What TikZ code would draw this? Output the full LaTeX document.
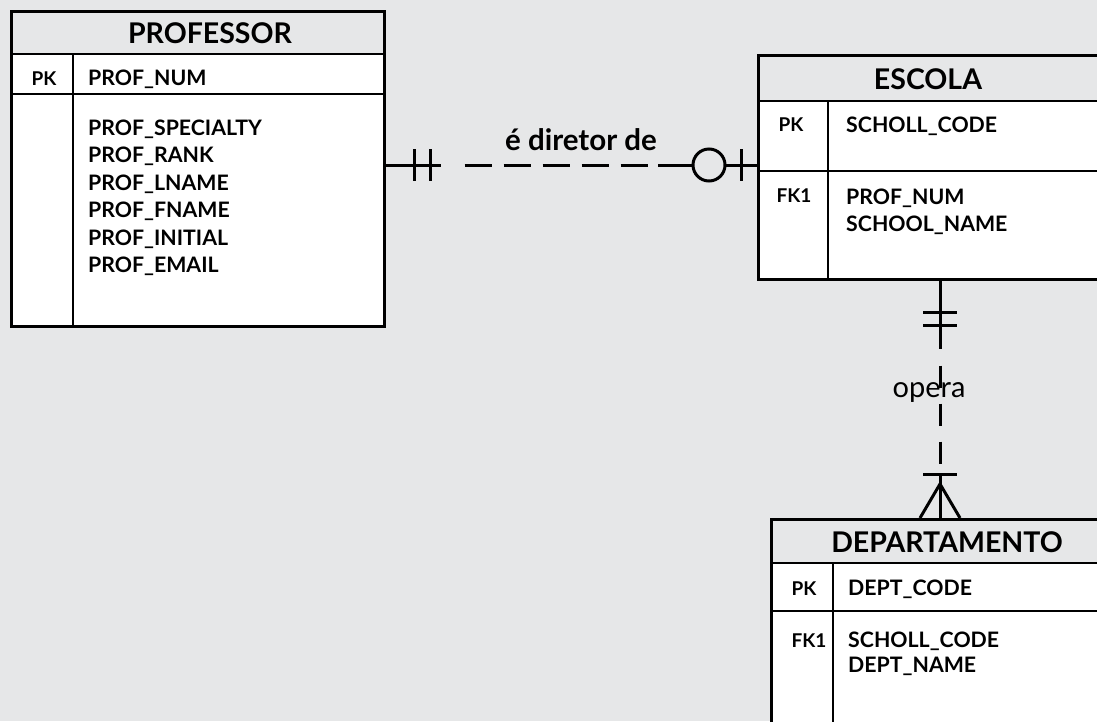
\documentclass[tikz,border=0pt]{standalone}
\usepackage{fontspec}
\setmainfont{Lato}
\usetikzlibrary{calc}
\definecolor{paper}{HTML}{E6E7E8}
\begin{document}
\begin{tikzpicture}[x=1pt,y=-1pt,
  entity/.style={draw, line width=2.6pt, inner sep=0pt, anchor=north west},
  rule/.style={line width=2pt},
  rel/.style={line width=3pt},
  tick/.style={line width=3pt},
  titletext/.style={font=\fontsize{28.5}{30}\selectfont\bfseries, anchor=base, inner sep=0pt},
  attrtext/.style={font=\fontsize{21.3}{24}\selectfont\bfseries, anchor=base west, inner sep=0pt},
  keytext/.style={font=\fontsize{19}{22}\selectfont\bfseries, anchor=base, inner sep=0pt},
  reltext/.style={font=\fontsize{29}{31}\selectfont, anchor=base, inner sep=0pt}]

% canvas
\fill[paper] (0,0) rectangle (1097,721);
\useasboundingbox (0,0) rectangle (1097,721);
\clip (0,0) rectangle (1097,721);

% ---------- PROFESSOR ----------
\fill[white] (10,54) rectangle (383,325);
\node[entity, minimum width=373pt, minimum height=315pt] (prof) at (10,10) {};
\draw[rule] (10,54) -- (383,54) (10,94) -- (383,94) (73,54) -- (73,325);
\node[titletext] (profTitle) at (210,43) {PROFESSOR};
\node[keytext] (profPK) at (44,85) {PK};
\node[attrtext] (profA0) at (88,85) {PROF\_NUM};
\node[attrtext] (profA1) at (88,135) {PROF\_SPECIALTY};
\node[attrtext] (profA2) at (88,162.5) {PROF\_RANK};
\node[attrtext] (profA3) at (88,190) {PROF\_LNAME};
\node[attrtext] (profA4) at (88,217.5) {PROF\_FNAME};
\node[attrtext] (profA5) at (88,245) {PROF\_INITIAL};
\node[attrtext] (profA6) at (88,272.5) {PROF\_EMAIL};

% ---------- ESCOLA ----------
\fill[white] (757,101) rectangle (1099,278);
\node[entity, minimum width=342pt, minimum height=224pt] (esc) at (757,54) {};
\draw[rule] (757,101) -- (1099,101) (757,171) -- (1099,171) (828,101) -- (828,278);
\node[titletext] (escTitle) at (928,89) {ESCOLA};
\node[keytext] (escPK) at (791,131) {PK};
\node[attrtext] (escA0) at (846,132) {SCHOLL\_CODE};
\node[keytext] (escFK) at (794,202) {FK1};
\node[attrtext] (escA1) at (846,204) {PROF\_NUM};
\node[attrtext] (escA2) at (846,231) {SCHOOL\_NAME};

% ---------- DEPARTAMENTO ----------
\fill[white] (770,563) rectangle (1124,740);
\node[entity, minimum width=354pt, minimum height=222pt] (dep) at (770,518) {};
\draw[rule] (770,563) -- (1124,563) (770,611) -- (1124,611) (833,563) -- (833,740);
\node[titletext] (depTitle) at (947,552) {DEPARTAMENTO};
\node[keytext] (depPK) at (804,595) {PK};
\node[attrtext] (depA0) at (848,595) {DEPT\_CODE};
\node[keytext] (depFK) at (809,647) {FK1};
\node[attrtext] (depA1) at (848,647) {SCHOLL\_CODE};
\node[attrtext] (depA2) at (848,672) {DEPT\_NAME};

% ---------- é diretor de : PROFESSOR (1,1) -- ESCOLA (0,1) ----------
\coordinate (r1) at (0,165);
\coordinate (p) at (prof.east |- r1);
\coordinate (e) at (esc.west |- r1);
\draw[rel] (p) -- ++(55,0);
\draw[tick] ($(p)+(29,-16)$) -- ++(0,32);
\draw[tick] ($(p)+(45,-16)$) -- ++(0,32);
\draw[rel, dash pattern=on 27pt off 12pt] ($(p)+(79,0)$) -- ($(p)+(262,0)$);
\draw[rel] ($(e)+(-99,0)$) -- ($(e)+(-64,0)$);
\draw[rel] ($(e)+(-48,0)$) circle[radius=16];
\draw[rel] ($(e)+(-32,0)$) -- (e);
\draw[tick] ($(e)+(-16,-16)$) -- ++(0,32);
\node[reltext, font=\fontsize{29.5}{31}\selectfont\bfseries] (relDir) at (581,150) {é diretor de};

% ---------- opera : ESCOLA (1,1) -- DEPARTAMENTO (1,N) ----------
\coordinate (r2) at (940,0);
\coordinate (s) at (esc.south -| r2);
\coordinate (d) at (dep.north -| r2);
\draw[rel] (s) -- ++(0,68);
\draw[tick] ($(s)+(-17,32)$) -- ++(34,0);
\draw[tick] ($(s)+(-17,45)$) -- ++(34,0);
\draw[rel, dash pattern=on 22pt off 16pt] ($(s)+(0,85)$) -- ($(s)+(0,185)$);
\draw[tick] ($(d)+(-17,-44)$) -- ++(34,0);
\draw[rel] ($(d)+(0,-44)$) -- (d);
\draw[rel] ($(d)+(-20,0)$) -- ($(d)+(0,-34)$) -- ($(d)+(20,0)$);
\node[reltext] (relOp) at (929,397) {opera};

\end{tikzpicture}
\end{document}
